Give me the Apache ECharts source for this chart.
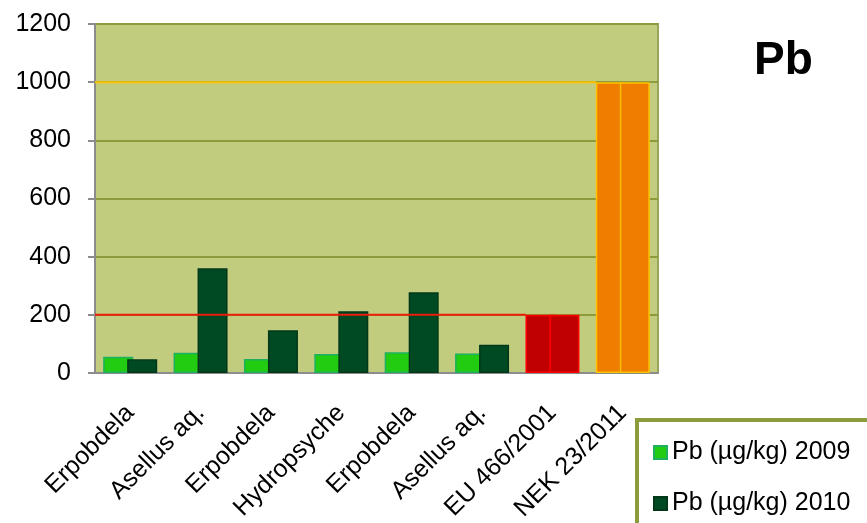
<!DOCTYPE html>
<html>
<head>
<meta charset="utf-8">
<script src="https://cdn.jsdelivr.net/npm/echarts@6/dist/echarts.min.js"></script>
<style>
  html, body { margin: 0; padding: 0; background: #fff; }
  #chart { width: 867px; height: 523px; }
</style>
</head>
<body>
<div id="chart"></div>
<script>
const categories = ['Erpobdela', 'Asellus aq.', 'Erpobdela', 'Hydropsyche', 'Erpobdela', 'Asellus aq.', 'EU 466/2001', 'NEK 23/2011'];
const pb2009 = [56, 70, 48, 65, 71, 67, 200, 1000];
const pb2010 = [47, 360, 147, 212, 278, 97, 200, 1000];
const yTicks = [0, 200, 400, 600, 800, 1000, 1200];
// limit lines: [value, end position in category units]
const euLimit = [[0, 200], [6.12, 200]];
const nekLimit = [[0, 1000], [7.12, 1000]];

const font = 'Liberation Sans, Arial, sans-serif';

// the last two categories are the limit values, drawn red / orange
function colorize(values, normal) {
  return values.map((v, i) => {
    if (i === 6) return { value: v, itemStyle: { color: '#c00000', borderColor: '#ff0000' } };
    if (i === 7) return { value: v, itemStyle: { color: '#ee7d00', borderColor: '#ffc000' } };
    return { value: v, itemStyle: normal };
  });
}

const chart = echarts.init(document.getElementById('chart'));

chart.setOption({
  animation: false,
  title: {
    text: 'Pb',
    left: 749,
    top: 33,
    textStyle: { fontFamily: font, fontSize: 46, fontWeight: 'bold', color: '#000' }
  },
  grid: {
    left: 95,
    right: 209,
    top: 24,
    bottom: 150,
    outerBoundsMode: 'none',
    containLabel: false,
    show: true,
    backgroundColor: '#c2cc7f',
    borderColor: '#98a55a',
    borderWidth: 2
  },
  legend: {
    orient: 'vertical',
    left: 637,
    top: 420,
    height: 150,
    padding: [20, 40, 40, 16],
    itemGap: 26,
    itemWidth: 13,
    itemHeight: 13,
    borderColor: '#8c9c3c',
    borderWidth: 4,
    backgroundColor: '#fff',
    icon: 'rect',
    textStyle: { fontFamily: font, fontSize: 25, color: '#000' },
    data: ['Pb (µg/kg) 2009', 'Pb (µg/kg) 2010']
  },
  xAxis: [
    {
      type: 'category',
      data: categories,
      axisLine: { lineStyle: { color: '#8c8c8c', width: 2 } },
      axisTick: { length: 9, lineStyle: { color: '#8c8c8c', width: 2 } },
      axisLabel: {
        rotate: 45,
        margin: 36,
        interval: 0,
        fontFamily: font,
        fontSize: 25,
        color: '#000'
      }
    },
    {
      type: 'value',
      min: 0,
      max: 8,
      show: false
    }
  ],
  yAxis: {
    type: 'value',
    min: yTicks[0],
    max: yTicks[yTicks.length - 1],
    interval: 200,
    axisLine: { show: true, lineStyle: { color: '#8c8c8c', width: 2 } },
    axisTick: { show: true, length: 7, lineStyle: { color: '#8c8c8c', width: 2 } },
    axisLabel: {
      margin: 24,
      fontFamily: font,
      fontSize: 25,
      color: '#000',
      formatter: (v) => String(v)
    },
    splitLine: { lineStyle: { color: '#8c9c3c', width: 2 } }
  },
  series: [
    {
      name: 'Pb (µg/kg) 2009',
      type: 'bar',
      barWidth: 30,
      barGap: '-20%',
      itemStyle: { color: '#22cc11', borderColor: '#1cb060', borderWidth: 1.5 },
      data: colorize(pb2009, { color: '#22cc11', borderColor: '#1cb060', borderWidth: 1.5 })
    },
    {
      name: 'Pb (µg/kg) 2010',
      type: 'bar',
      barWidth: 30,
      barGap: '-20%',
      itemStyle: { color: '#004a23', borderColor: '#003818', borderWidth: 1.5 },
      data: colorize(pb2010, { color: '#004a23', borderColor: '#003818', borderWidth: 1.5 })
    },
    {
      type: 'line',
      xAxisIndex: 1,
      symbol: 'none',
      lineStyle: { color: '#ee1c0c', width: 2 },
      data: euLimit,
      z: 5
    },
    {
      type: 'line',
      xAxisIndex: 1,
      symbol: 'none',
      lineStyle: { color: '#ffc000', width: 2 },
      data: nekLimit,
      z: 5
    }
  ]
});
</script>
</body>
</html>
